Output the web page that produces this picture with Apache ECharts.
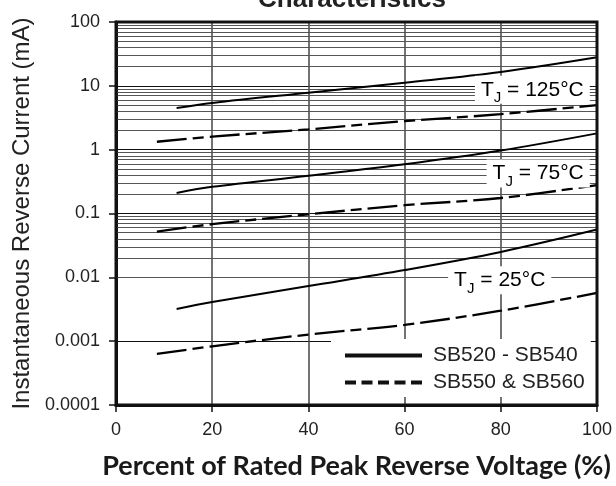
<!DOCTYPE html>
<html><head><meta charset="utf-8">
<script src="https://cdn.jsdelivr.net/npm/echarts@6/dist/echarts.min.js"></script>
<style>html,body{margin:0;padding:0;background:#fff}#c{width:616px;height:486px}</style>
</head><body><div id="c"></div>
<script>
// ---- data ----
const solidX  = [12.6, 20, 40, 60, 80, 100];
const dashedX = [8.5, 20, 40, 60, 80, 100];
const solid125  = [4.5, 5.4, 7.8, 11.2, 16.5, 28];
const dashed125 = [1.33, 1.6, 2.08, 2.8, 3.6, 5.0];
const solid75   = [0.21, 0.262, 0.39, 0.59, 0.97, 1.8];
const dashed75  = [0.052, 0.068, 0.097, 0.135, 0.175, 0.279];
const solid25   = [0.0032, 0.0041, 0.0073, 0.013, 0.025, 0.056];
const dashed25  = [0.00063, 0.00083, 0.00127, 0.0018, 0.003, 0.0057];
const yTickValues = [0.0001, 0.001, 0.01, 0.1, 1, 10, 100];
const yTickLabels = ['0.0001', '0.001', '0.01', '0.1', '1', '10', '100'];
const xTickLabels = ['0', '20', '40', '60', '80', '100'];
const tempLabels = ['125°C', '75°C', '25°C'];
const nameSolid = 'SB520 - SB540';
const nameDashed = 'SB550 & SB560';

const pair = (xs, ys) => xs.map((x, i) => [x, ys[i]]);
// minor log gridlines (2..9 in each decade)
const minorLines = [];
for (let k = -4; k <= 1; k++) for (let m = 2; m <= 9; m++) minorLines.push({ yAxis: m * Math.pow(10, k) });

const dashPattern = [30, 6, 11, 6];
const solidStyle = { color: '#000', width: 2 };
const dashStyle = { color: '#000', width: 2.3, type: dashPattern };

function mk(name, xs, ys, style, extra) {
  return Object.assign({
    name, type: 'line', data: pair(xs, ys), symbol: 'none', smooth: 0.35,
    lineStyle: style, itemStyle: { color: '#000' }, z: 5, silent: true
  }, extra || {});
}

const chart = echarts.init(document.getElementById('c'), null, { renderer: 'canvas' });
const FONT = 'Liberation Sans, Arial, sans-serif';
chart.setOption({
  animation: false,
  backgroundColor: '#fff',
  title: {
    text: 'Characteristics', left: 352, top: -13, padding: 0, textAlign: 'center',
    textStyle: { fontFamily: FONT, fontWeight: 'bold', fontSize: 26, color: '#222' }
  },
  grid: { left: 116, right: 19, top: 22, bottom: 81, show: true, borderColor: '#111', borderWidth: 3, z: 10 },
  legend: {
    orient: 'vertical', left: 331, top: 339, padding: [6, 6, 4, 12],
    backgroundColor: '#fff', itemWidth: 77, itemHeight: 14, itemGap: 6, z: 20,
    textStyle: { fontFamily: FONT, fontSize: 21, color: '#222', padding: [0, 0, 0, 6] },
    data: [
      { name: nameSolid, itemStyle: { opacity: 0 }, lineStyle: { width: 4, color: '#111', type: 'solid' } },
      { name: nameDashed, itemStyle: { opacity: 0 }, lineStyle: { width: 4, color: '#111', type: [11, 5.5] } }
    ]
  },
  xAxis: {
    type: 'value', min: 0, max: 100, interval: 20,
    axisLine: { show: true, lineStyle: { color: '#111', width: 3 } },
    axisTick: { show: true, length: 7, lineStyle: { color: '#111', width: 1.5 } },
    axisLabel: { fontFamily: FONT, fontSize: 18, color: '#222', margin: 16,
      formatter: v => xTickLabels[Math.round(v / 20)] },
    splitLine: { show: true, lineStyle: { color: '#444', width: 1.5 } },
    name: 'Percent of Rated Peak Reverse Voltage (%)', nameLocation: 'middle', nameGap: 48,
    nameTextStyle: { fontFamily: 'Lato, Open Sans, sans-serif', fontWeight: 'bold', fontSize: 27, color: '#1a1a1a' }
  },
  yAxis: {
    type: 'log', logBase: 10, min: 0.0001, max: 100,
    axisLine: { show: true, lineStyle: { color: '#111', width: 3 } },
    axisTick: { show: true, length: 7, lineStyle: { color: '#111', width: 1.5 } },
    axisLabel: { fontFamily: FONT, fontSize: 18, color: '#222', margin: 16,
      formatter: v => { const i = yTickValues.findIndex(t => Math.abs(Math.log10(t) - Math.log10(v)) < 1e-6); return i >= 0 ? yTickLabels[i] : ''; } },
    splitLine: { show: true, lineStyle: { color: '#111', width: 1.2 } },
    name: 'Instantaneous Reverse Current (mA)', nameLocation: 'middle', nameGap: 80,
    nameTextStyle: { fontFamily: FONT, fontSize: 24, color: '#222' }
  },
  series: [
    mk(nameSolid, solidX, solid125, solidStyle, {
      markLine: { silent: true, symbol: ['none', 'none'], label: { show: false }, animation: false,
        lineStyle: { color: '#555', width: 1, type: 'solid' }, data: minorLines }
    }),
    mk(nameDashed, dashedX, dashed125, dashStyle),
    mk(nameSolid, solidX, solid75, solidStyle),
    mk(nameDashed, dashedX, dashed75, dashStyle),
    mk(nameSolid, solidX, solid25, solidStyle),
    mk(nameDashed, dashedX, dashed25, dashStyle)
  ]
});

// temperature labels (white boxes) placed via the axes
const labelPos = [[98.5, 9.0], [98.5, 0.44], [90.5, 0.0093]];
const gfx = labelPos.map((p, i) => {
  const px = chart.convertToPixel({ gridIndex: 0 }, p);
  return {
    type: 'text', right: 616 - px[0], top: px[1] - 13, z: 30,
    style: {
      text: '{t|T}{s|J}{t| = ' + tempLabels[i] + '}',
      backgroundColor: '#fff', padding: [2, 6, 2, 6],
      rich: {
        t: { fontFamily: FONT, fontSize: 21, color: '#222', lineHeight: 24 },
        s: { fontFamily: FONT, fontSize: 15, color: '#222', lineHeight: 15, verticalAlign: 'bottom', padding: [0, 0, -4, 0] }
      }
    }
  };
});
chart.setOption({ graphic: gfx });
</script>
</body></html>
